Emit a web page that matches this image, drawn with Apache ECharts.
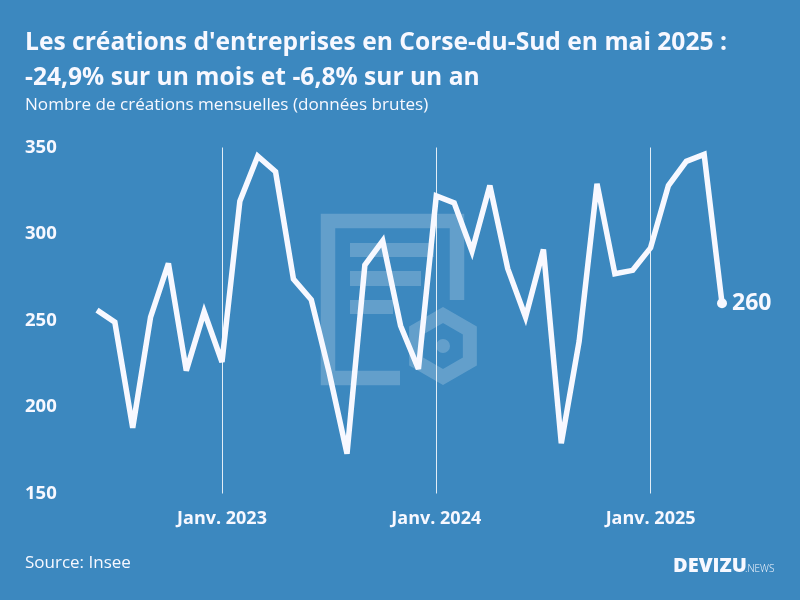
<!DOCTYPE html>
<html><head><meta charset="utf-8">
<style>html,body{margin:0;padding:0;background:#3c88bf}#c{width:800px;height:600px}</style>
<script src="https://cdn.jsdelivr.net/npm/echarts@6/dist/echarts.min.js"></script>
</head><body><div id="c"></div>
<script>
const months = ['Juin 2022','Juil. 2022','Août 2022','Sept. 2022','Oct. 2022','Nov. 2022','Déc. 2022',
 'Janv. 2023','Févr. 2023','Mars 2023','Avr. 2023','Mai 2023','Juin 2023','Juil. 2023','Août 2023','Sept. 2023','Oct. 2023','Nov. 2023','Déc. 2023',
 'Janv. 2024','Févr. 2024','Mars 2024','Avr. 2024','Mai 2024','Juin 2024','Juil. 2024','Août 2024','Sept. 2024','Oct. 2024','Nov. 2024','Déc. 2024',
 'Janv. 2025','Févr. 2025','Mars 2025','Avr. 2025','Mai 2025'];
const creations = [256,249,188,252,283,221,255,226,319,345,336,274,262,220,173,282,296,247,222,322,318,290,328,280,252,291,179,238,329,277,279,292,328,342,346,260];
const FONT = 'Open Sans';
const WHITE = '#f7f8ff';
const WM = 'rgba(255,255,255,0.2)';
const isJan = (i, v) => String(v).startsWith('Janv.');
const chart = echarts.init(document.getElementById('c'));
const hex = (r) => [0,1,2,3,4,5].map(k => {
  const a = -Math.PI/2 + k*Math.PI/3; return [443 + r*Math.cos(a), 346 + r*Math.sin(a)];
});
chart.setOption({
  animation: false,
  backgroundColor: '#3c88bf',
  textStyle: {fontFamily: FONT},
  title: [
    {text: "Les créations d'entreprises en Corse-du-Sud en mai 2025 :\n-24,9% sur un mois et -6,8% sur un an",
     left: 25, top: 25, padding: 0,
     textStyle: {color: WHITE, fontFamily: FONT, fontWeight: 'bold', fontSize: 24.6, lineHeight: 35}},
    {text: 'Nombre de créations mensuelles (données brutes)', left: 25, top: 97, padding: 0,
     textStyle: {color: WHITE, fontFamily: FONT, fontWeight: 'normal', fontSize: 17.1}},
    {text: 'Source: Insee', left: 25, top: 555, padding: 0,
     textStyle: {color: WHITE, fontFamily: FONT, fontWeight: 'normal', fontSize: 17}}
  ],
  grid: {left: 97, right: 78, top: 147.5, bottom: 106.5},
  xAxis: {
    type: 'category', data: months, boundaryGap: false,
    axisLine: {show: false}, axisTick: {show: false},
    axisLabel: {interval: isJan, color: WHITE, fontWeight: 'bold', fontSize: 18, margin: 16, hideOverlap: false},
    splitLine: {show: true, interval: isJan, lineStyle: {color: 'rgba(255,255,255,0.85)', width: 1}}
  },
  yAxis: {
    type: 'value', min: 150, max: 350, interval: 50,
    axisLine: {show: false}, axisTick: {show: false}, splitLine: {show: false},
    axisLabel: {color: WHITE, fontWeight: 'bold', fontSize: 18.5, align: 'left', margin: 72}
  },
  series: [{
    type: 'line', showAllSymbol: true, symbol: 'none', z: 5,
    lineStyle: {color: WHITE, width: 5.5, join: 'miter', miterLimit: 4},
    itemStyle: {color: WHITE},
    data: creations.map((v, i) => i === creations.length - 1
      ? {value: v, symbol: 'circle', symbolSize: 10,
         label: {show: true, position: 'right', distance: 5, color: WHITE, fontFamily: FONT, fontWeight: 'bold', fontSize: 23, formatter: '{c}'}}
      : v)
  }],
  graphic: {elements: [
    {type: 'polyline', silent: true, z: 0, shape: {points: [[457,300],[457,221],[328,221],[328,378],[400,378]]},
     style: {fill: 'none', stroke: WM, lineWidth: 14.5, lineJoin: 'miter'}},
    {type: 'rect', silent: true, z: 0, shape: {x: 350, y: 243, width: 84, height: 14}, style: {fill: WM}},
    {type: 'rect', silent: true, z: 0, shape: {x: 350, y: 271, width: 71, height: 15}, style: {fill: WM}},
    {type: 'rect', silent: true, z: 0, shape: {x: 350, y: 300, width: 43, height: 14}, style: {fill: WM}},
    {type: 'polygon', silent: true, z: 0, shape: {points: hex(31)}, style: {fill: 'none', stroke: WM, lineWidth: 14}},
    {type: 'circle', silent: true, z: 0, shape: {cx: 443, cy: 346, r: 7}, style: {fill: WM}},
    {type: 'text', silent: true, z: 6, style: {x: 673, y: 556, text: 'DEVIZU', fill: WHITE, font: '800 20px "Open Sans"'}},
    {type: 'text', silent: true, z: 6, style: {x: 745, y: 564, text: '.NEWS', fill: WHITE, font: '300 10px "Open Sans"'}}
  ]}
});
</script></body></html>
